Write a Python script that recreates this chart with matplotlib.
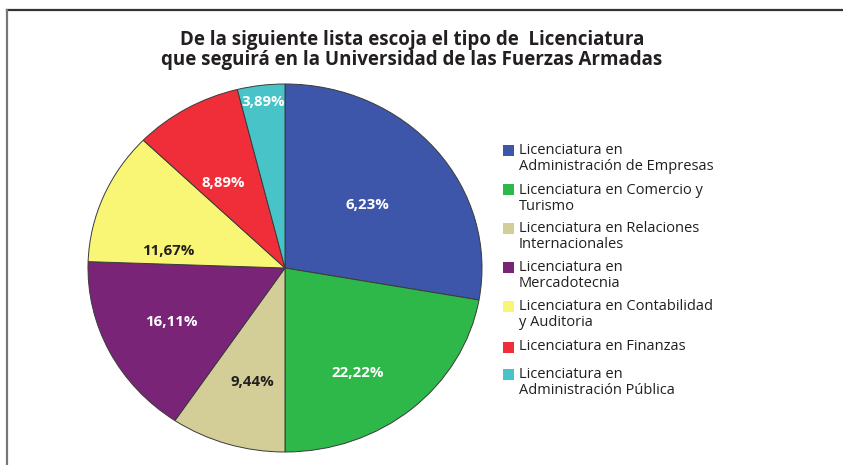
import numpy as np
import matplotlib
matplotlib.use("Agg")
import matplotlib.pyplot as plt
from matplotlib.patches import Rectangle
from matplotlib.lines import Line2D

# ---- data ----
categories = [
    "Licenciatura en\nAdministración de Empresas",
    "Licenciatura en Comercio y\nTurismo",
    "Licenciatura en Relaciones\nInternacionales",
    "Licenciatura en\nMercadotecnia",
    "Licenciatura en Contabilidad\ny Auditoria",
    "Licenciatura en Finanzas",
    "Licenciatura en\nAdministración Pública",
]
values = [27.78, 22.22, 9.44, 16.11, 11.67, 8.89, 3.89]
value_labels = ["6,23%", "22,22%", "9,44%", "16,11%", "11,67%", "8,89%", "3,89%"]
title = "De la siguiente lista escoja el tipo de  Licenciatura\nque seguirá en la Universidad de las Fuerzas Armadas"

# ---- style ----
colors = ["#3D56AA", "#2EB84A", "#D3CE98", "#7A2478", "#FAF675", "#EF2E39", "#48C3C8"]
label_colors = ["white", "white", "#231F20", "white", "#231F20", "white", "white"]
label_dist = [0.54, 0.68, 0.64, 0.65, 0.60, 0.56, 0.91]
label_shift = [-1, -7, 2, 0, 14, 4, 0]   # degrees from wedge middle

W, H = 843, 465
fig = plt.figure(figsize=(W / 100, H / 100), dpi=100)
fig.patch.set_facecolor("white")

# frame lines (top & left)
fig.add_artist(Line2D([7 / W, 1], [1 - 10 / H, 1 - 10 / H], color="#333333", lw=1.6,
                      transform=fig.transFigure))
fig.add_artist(Line2D([7 / W, 7 / W], [0, 1 - 10 / H], color="#777777", lw=1.6,
                      transform=fig.transFigure))

# pie axes (slightly elliptical like the reference)
cx, cy, rx, ry = 285, 268, 197, 184
ax = fig.add_axes([(cx - rx) / W, (H - cy - ry) / H, 2 * rx / W, 2 * ry / H])
wedges, _ = ax.pie(values, colors=colors, startangle=90, counterclock=False,
                   radius=1.0, wedgeprops=dict(edgecolor="#3a3a3a", linewidth=0.7))
ax.set_aspect("auto")
ax.set_xlim(-1, 1)
ax.set_ylim(-1, 1)
ax.axis("off")

for w, lab, c, d, s in zip(wedges, value_labels, label_colors, label_dist, label_shift):
    ang = np.deg2rad((w.theta1 + w.theta2) / 2 + s)
    ax.text(d * np.cos(ang), d * np.sin(ang), lab, ha="center", va="center",
            color=c, fontsize=10.8, fontweight="bold", family=["Open Sans", "DejaVu Sans"])

# title
fig.text(412 / W, 1 - 50 / H, title, ha="center", va="center", fontsize=13.5,
         fontweight="bold", color="#231F20", linespacing=1.0,
         family=["Liberation Sans Narrow", "Open Sans", "DejaVu Sans"])

# legend (manual, square aligned with first line)
legend_y = [150, 190, 228, 267, 306, 347, 374]
line_step = 16.5
for y, lab, col in zip(legend_y, categories, colors):
    fig.add_artist(Rectangle((503 / W, 1 - (y + 5.5) / H), 11 / W, 11 / H,
                             facecolor=col, edgecolor="none", transform=fig.transFigure))
    for i, part in enumerate(lab.split("\n")):
        fig.text(519 / W, 1 - (y + i * line_step) / H, part, ha="left", va="center",
                 fontsize=10.5, color="#231F20", family=["Open Sans", "DejaVu Sans"])

fig.savefig("out.png", dpi=100, facecolor="white")
